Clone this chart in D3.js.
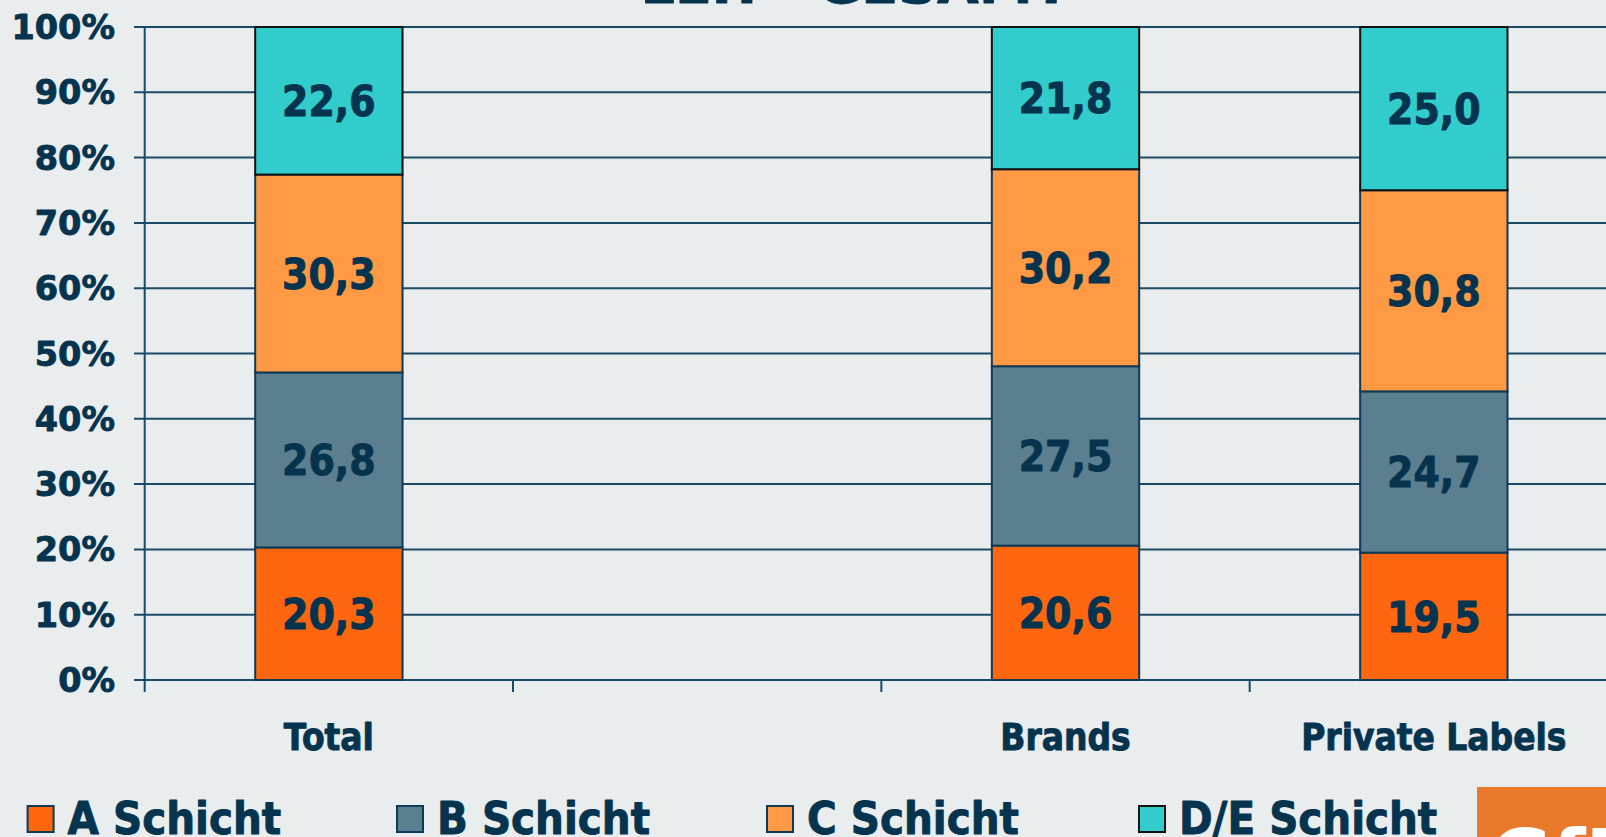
<!DOCTYPE html>
<html>
<head>
<meta charset="utf-8">
<script src="https://cdn.jsdelivr.net/npm/d3@7"></script>
<style>
  html, body { margin: 0; padding: 0; background: #E9EDEE; overflow: hidden; }
  svg { display: block; }
  text { font-family: "DejaVu Sans", Verdana, sans-serif; font-weight: bold; }
  .heavy { stroke: #06344F; stroke-width: 0.9px; stroke-linejoin: round; }
</style>
</head>
<body>
<svg id="chart" width="1606" height="837"></svg>
<script>
// ---- data ----
const categories = ["Total", "", "Brands", "Private Labels"];
const seriesNames = ["A Schicht", "B Schicht", "C Schicht", "D/E Schicht"];
const aSchicht  = [20.3, null, 20.6, 19.5];
const bSchicht  = [26.8, null, 27.5, 24.7];
const cSchicht  = [30.3, null, 30.2, 30.8];
const deSchicht = [22.6, null, 21.8, 25.0];
const yTicks = [0, 10, 20, 30, 40, 50, 60, 70, 80, 90, 100];
const yTickLabels = ["0%", "10%", "20%", "30%", "40%", "50%", "60%", "70%", "80%", "90%", "100%"];
const titleText = "LEH - GESAMT";
const colors = ["#FF6610", "#5B7F8E", "#FF9944", "#33CCCC"];

// ---- build rows ----
const seriesValues = [aSchicht, bSchicht, cSchicht, deSchicht];
const rows = categories.map((c, i) => {
  const r = { cat: c };
  seriesNames.forEach((s, k) => { r[s] = seriesValues[k][i]; });
  return r;
}).filter(r => r[seriesNames[0]] != null);

const svg = d3.select("#chart");
const W = 1606, H = 837;
const textColor = "#06344F";
const gridColor = "#1B4A66";

const x = d3.scaleBand().domain(categories).range([144.7, 1618]).padding(0);
const y = d3.scaleLinear().domain([0, 100]).range([680, 27]);
const barW = x.bandwidth() * 0.4;

// title (mostly cut off at top)
svg.append("text")
  .attr("class", "heavy")
  .attr("x", 855).attr("y", 3)
  .attr("text-anchor", "middle")
  .attr("font-size", 54)
  .attr("fill", textColor)
  .text(titleText);

// gridlines
svg.append("g").selectAll("line").data(yTicks).join("line")
  .attr("x1", 134).attr("x2", W)
  .attr("y1", d => y(d)).attr("y2", d => y(d))
  .attr("stroke", gridColor).attr("stroke-width", 2);

// y axis line
svg.append("line")
  .attr("x1", x.range()[0]).attr("x2", x.range()[0])
  .attr("y1", y(100)).attr("y2", 692)
  .attr("stroke", gridColor).attr("stroke-width", 2);

// x axis ticks at band boundaries
const boundaries = categories.map(c => x(c)).concat([x.range()[1]]);
svg.append("g").selectAll("line").data(boundaries.slice(1)).join("line")
  .attr("x1", d => d).attr("x2", d => d)
  .attr("y1", y(0)).attr("y2", 692)
  .attr("stroke", gridColor).attr("stroke-width", 2);

// y tick labels
svg.append("g").selectAll("text").data(yTicks).join("text")
  .attr("class", "heavy")
  .attr("x", 115).attr("y", d => y(d))
  .attr("dy", "0.36em")
  .attr("text-anchor", "end")
  .attr("font-size", 33.5)
  .attr("fill", textColor)
  .text((d, i) => yTickLabels[i]);

// stacked bars
const stack = d3.stack().keys(seriesNames).offset(d3.stackOffsetExpand);
const stacked = stack(rows);
const fmt = v => d3.format(".1f")(v).replace(".", ",");

stacked.forEach((layer, k) => {
  const g = svg.append("g");
  g.selectAll("rect").data(layer).join("rect")
    .attr("x", d => x(d.data.cat) + (x.bandwidth() - barW) / 2)
    .attr("width", barW)
    .attr("y", d => y(d[1] * 100))
    .attr("height", d => y(d[0] * 100) - y(d[1] * 100))
    .attr("fill", colors[k])
    .attr("stroke", k === 3 ? "#111" : "#0E3A55")
    .attr("stroke-width", 2);
});
stacked.forEach((layer, k) => {
  svg.append("g").selectAll("text").data(layer).join("text")
    .attr("class", "heavy")
    .attr("transform", d => `translate(${x(d.data.cat) + x.bandwidth() / 2},${y((d[0] + d[1]) / 2 * 100)}) scale(1,1.12)`)
    .attr("dy", "0.36em")
    .attr("text-anchor", "middle")
    .attr("font-size", 38)
    .attr("fill", textColor)
    .text(d => fmt(d.data[seriesNames[k]]));
});

// category labels
svg.append("g").selectAll("text").data(categories).join("text")
  .attr("class", "heavy")
  .attr("transform", d => `translate(${x(d) + x.bandwidth() / 2},750) scale(1,1.12)`)
  .attr("text-anchor", "middle")
  .attr("font-size", 33)
  .attr("fill", textColor)
  .text(d => d);

// legend
const legendX = [27.6, 397, 767, 1139];
const lg = svg.append("g");
seriesNames.forEach((s, k) => {
  lg.append("rect")
    .attr("x", legendX[k]).attr("y", 806)
    .attr("width", 26).attr("height", 26)
    .attr("fill", colors[k])
    .attr("stroke", k === 3 ? "#111" : "#0E3A55")
    .attr("stroke-width", 2);
  lg.append("text")
    .attr("class", "heavy")
    .attr("transform", `translate(${legendX[k] + 40},834) scale(1,1.1)`)
    .attr("font-size", 40.5)
    .attr("fill", textColor)
    .text(s);
});

// logo box (partially visible)
svg.append("rect")
  .attr("x", 1477).attr("y", 787)
  .attr("width", W - 1477).attr("height", H - 787)
  .attr("fill", "#E8792B");
svg.append("text")
  .attr("x", 1490).attr("y", 884)
  .attr("font-size", 76)
  .attr("fill", "#FFFFFF")
  .text("GfK");
</script>
</body>
</html>
